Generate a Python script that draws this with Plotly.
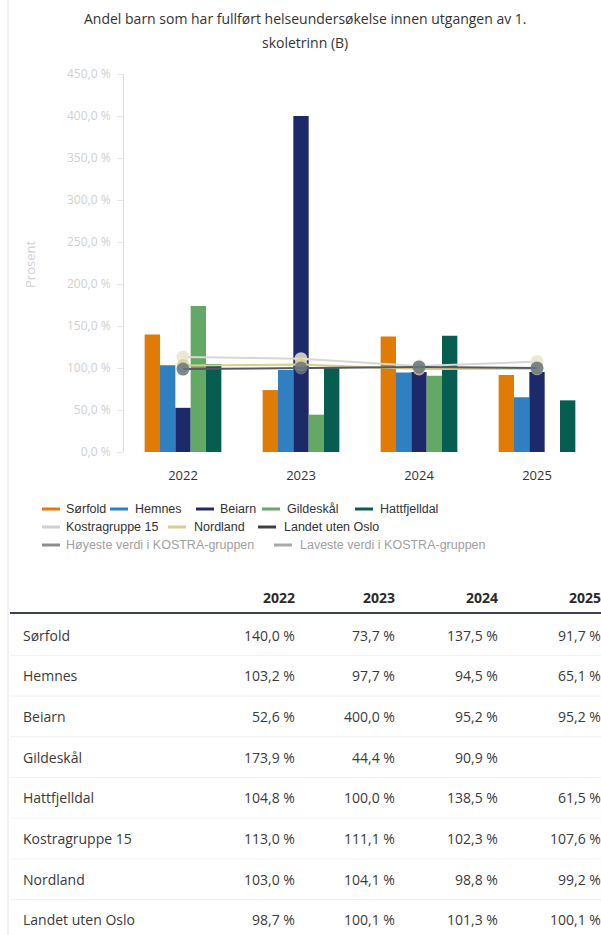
import plotly.graph_objects as go

# ---- data -------------------------------------------------------------
years = ["2022", "2023", "2024", "2025"]

sorfold = [140.0, 73.7, 137.5, 91.7]
hemnes = [103.2, 97.7, 94.5, 65.1]
beiarn = [52.6, 400.0, 95.2, 95.2]
gildeskal = [173.9, 44.4, 90.9, None]
hattfjelldal = [104.8, 100.0, 138.5, 61.5]

kostragruppe15 = [113.0, 111.1, 102.3, 107.6]
nordland = [103.0, 104.1, 98.8, 99.2]
landet_uten_oslo = [98.7, 100.1, 101.3, 100.1]

y_ticks = [0, 50, 100, 150, 200, 250, 300, 350, 400, 450]

bar_series = [
    ("Sørfold", sorfold, "#e07b05"),
    ("Hemnes", hemnes, "#2f7fc1"),
    ("Beiarn", beiarn, "#1c2a6a"),
    ("Gildeskål", gildeskal, "#64a866"),
    ("Hattfjelldal", hattfjelldal, "#075e50"),
]
line_series = [
    ("Kostragruppe 15", kostragruppe15, "#d6d6d2", "rgba(232,228,208,0.85)"),
    ("Nordland", nordland, "#d9cf8a", "rgba(217,207,138,0.8)"),
    ("Landet uten Oslo", landet_uten_oslo, "#555a5e", "rgba(104,118,128,0.85)"),
]
extra_legend = [
    ("Høyeste verdi i KOSTRA-gruppen", "#8e8e8e"),
    ("Laveste verdi i KOSTRA-gruppen", "#a8a8a8"),
]


def pct(v):
    if v is None:
        return ""
    return f"{v:.1f}".replace(".", ",") + " %"


# ---- geometry helpers (pixel -> paper) ---------------------------------
W, H = 601, 935
L, R, T, B = 124, 5, 74, 483
PW = W - L - R
PH = H - T - B


def px(x):
    return (x - L) / PW


def py(y):
    return (H - B - y) / PH


fig = go.Figure()

for name, vals, color in bar_series:
    fig.add_trace(go.Bar(
        x=years, y=vals, name=name, marker_color=color,
        marker_line_width=0, showlegend=False,
    ))

for name, vals, lcolor, mcolor in line_series:
    fig.add_trace(go.Scatter(
        x=years, y=vals, name=name, mode="lines+markers",
        line=dict(color=lcolor, width=2),
        marker=dict(size=13, color=mcolor, line=dict(width=0)),
        showlegend=False,
    ))

shapes = []
annotations = []

# title
annotations.append(dict(
    text="Andel barn som har fullført helseundersøkelse innen utgangen av 1.",
    x=px(305), y=py(18), xref="paper", yref="paper", xanchor="center",
    yanchor="middle", showarrow=False,
    font=dict(family="Open Sans", size=14, color="#333333")))
annotations.append(dict(
    text="skoletrinn (B)",
    x=px(305), y=py(42), xref="paper", yref="paper", xanchor="center",
    yanchor="middle", showarrow=False,
    font=dict(family="Open Sans", size=14, color="#333333")))

# legend, drawn as line symbols + labels
legend_rows = [
    (509, [(42, 64, bar_series[0][0], bar_series[0][2], "#333333"),
           (110, 133, bar_series[1][0], bar_series[1][2], "#333333"),
           (196, 218, bar_series[2][0], bar_series[2][2], "#333333"),
           (262, 285, bar_series[3][0], bar_series[3][2], "#333333"),
           (355, 378, bar_series[4][0], bar_series[4][2], "#333333")]),
    (527, [(42, 64, line_series[0][0], "#cfcfcf", "#333333"),
           (168, 192, line_series[1][0], line_series[1][2], "#333333"),
           (258, 282, line_series[2][0], "#3e4247", "#333333")]),
    (545, [(42, 64, extra_legend[0][0], extra_legend[0][1], "#a0a0a0"),
           (274, 298, extra_legend[1][0], extra_legend[1][1], "#a0a0a0")]),
]
for ry, items in legend_rows:
    for sx, tx, label, scol, tcol in items:
        shapes.append(dict(type="line", xref="paper", yref="paper",
                           x0=px(sx), x1=px(sx + 18), y0=py(ry), y1=py(ry),
                           line=dict(color=scol, width=3)))
        annotations.append(dict(text=label, x=px(tx), y=py(ry), xref="paper",
                                yref="paper", xanchor="left", yanchor="middle",
                                showarrow=False,
                                font=dict(family="Liberation Sans, Arial", size=12.5,
                                          color=tcol)))

# y-axis title
annotations.append(dict(text="Prosent", textangle=-90, x=px(30), y=py(265),
                        xref="paper", yref="paper", showarrow=False,
                        xanchor="center", yanchor="middle",
                        font=dict(family="Open Sans", size=13, color="#d2d2d2")))

# ---- table -------------------------------------------------------------
col_right = [297, 397, 500, 603]
tfont = dict(family="Open Sans", size=14, color="#3a3a3a")
hfont = dict(family="Open Sans", size=14, color="#2b2b2b")

for yr, xr in zip(years, col_right):
    annotations.append(dict(text=f"<b>{yr}</b>", x=px(xr), y=py(597),
                            xref="paper", yref="paper", xanchor="right",
                            yanchor="middle", showarrow=False, font=hfont))

shapes.append(dict(type="line", xref="paper", yref="paper",
                   x0=px(10), x1=px(W), y0=py(613), y1=py(613),
                   line=dict(color="#3b4256", width=2)))

table_rows = [(n, v) for n, v, _ in bar_series] + [(n, v) for n, v, _, _ in line_series]
row_y0, row_step = 635, 40.7
for i, (name, vals) in enumerate(table_rows):
    ry = row_y0 + i * row_step
    annotations.append(dict(text=name, x=px(21), y=py(ry), xref="paper",
                            yref="paper", xanchor="left", yanchor="middle",
                            showarrow=False, font=tfont))
    for v, xr in zip(vals, col_right):
        if v is None:
            continue
        annotations.append(dict(text=pct(v), x=px(xr), y=py(ry), xref="paper",
                                yref="paper", xanchor="right", yanchor="middle",
                                showarrow=False, font=tfont))
    if i < len(table_rows) - 1:
        sy = ry + row_step / 2
        shapes.append(dict(type="line", xref="paper", yref="paper",
                           x0=px(10), x1=px(W), y0=py(sy), y1=py(sy),
                           line=dict(color="#f1f1f1", width=1)))

# left container border
shapes.append(dict(type="line", xref="paper", yref="paper",
                   x0=px(8), x1=px(8), y0=py(0), y1=py(H),
                   line=dict(color="#e4e4e4", width=1)))

fig.update_layout(
    width=W, height=H,
    margin=dict(l=L, r=R, t=T, b=B, pad=0),
    paper_bgcolor="white", plot_bgcolor="white",
    barmode="group", bargap=0.35, bargroupgap=0,
    showlegend=False,
    shapes=shapes, annotations=annotations,
    xaxis=dict(type="category", showgrid=False, showline=False, ticks="",
               tickfont=dict(family="Open Sans", size=13, color="#333333"),
               ticklabelstandoff=14),
    yaxis=dict(range=[0, 450], tickvals=y_ticks,
               ticktext=[pct(float(t)) for t in y_ticks],
               showgrid=False, zeroline=False, showline=True,
               linecolor="#dcdcdc", linewidth=1, ticks="outside", ticklen=6,
               tickcolor="#e6e6e6", ticklabelstandoff=4,
               tickfont=dict(family="Open Sans", size=12, color="#d0d0d0")),
)

fig.write_html("out.html")
